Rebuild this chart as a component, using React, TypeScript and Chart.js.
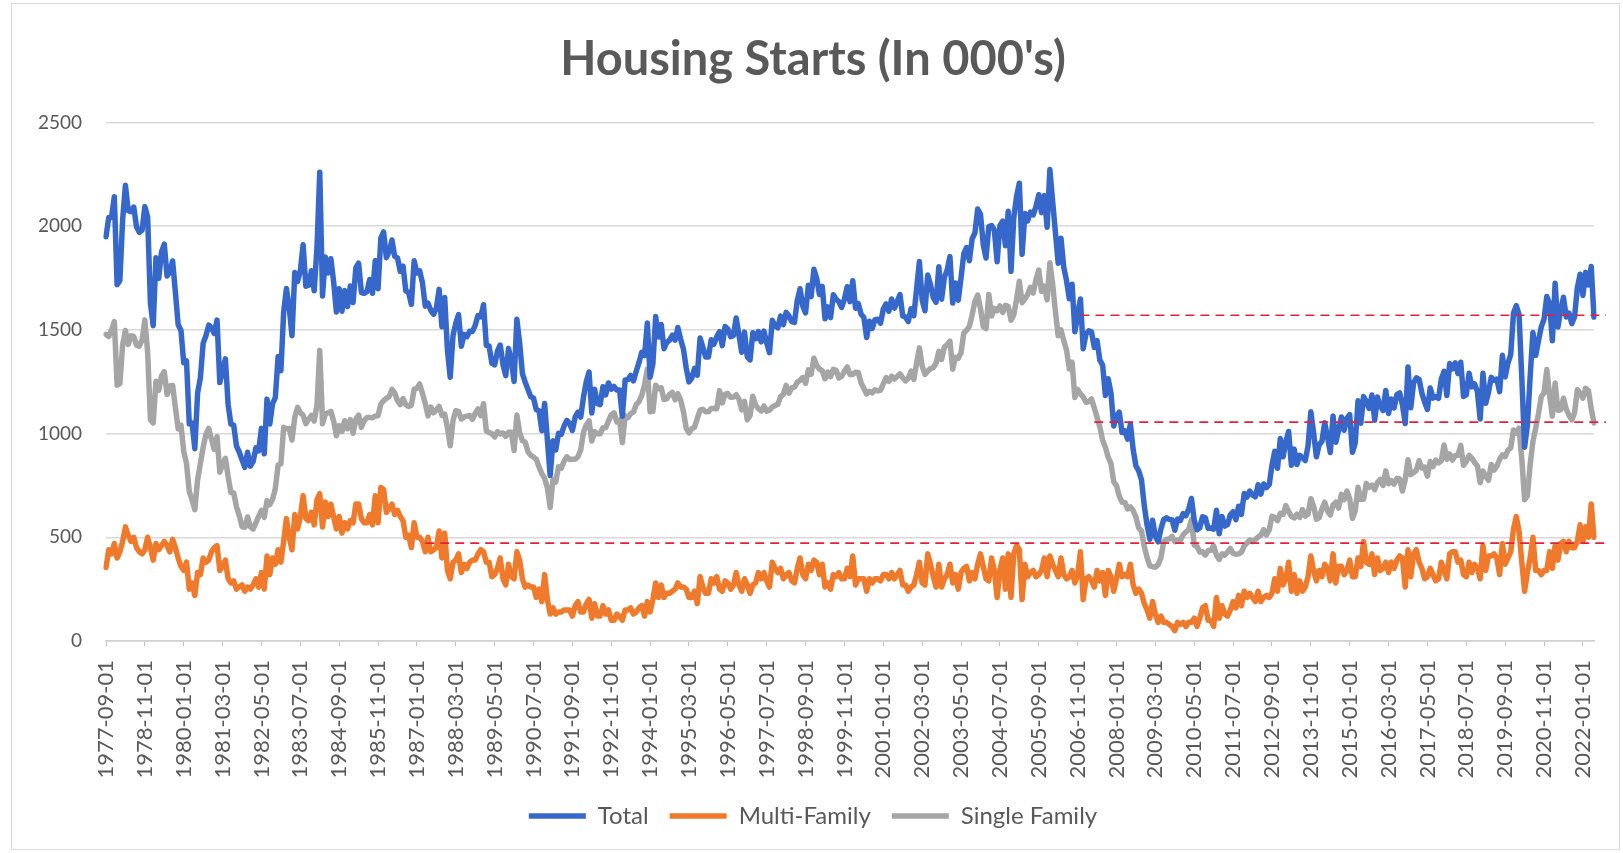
import React, { useEffect, useRef } from "react";
import { Chart, registerables } from "chart.js";

Chart.register(...registerables);

// Monthly housing starts (thousands, SAAR), 1977-09 .. 2022-05
const firstMonth = { year: 1977, month: 9 };

const total: number[] = [
  1949, 2042, 2042, 2142,
  1718, 1738, 2032, 2197, 2075, 2070, 2092, 1996, 1970, 1981, 2094, 2044,
  1630, 1520, 1847, 1748, 1876, 1913, 1760, 1778, 1832, 1681, 1524, 1498,
  1341, 1350, 1047, 1051, 927, 1196, 1269, 1436, 1471, 1523, 1510, 1482,
  1547, 1246, 1306, 1360, 1140, 1045, 1041, 940, 911, 873, 837, 910,
  843, 866, 931, 917, 1025, 902, 1166, 1046, 1144, 1173, 1372, 1303,
  1586, 1699, 1606, 1472, 1776, 1733, 1785, 1910, 1710, 1715, 1785, 1688,
  1897, 2260, 1663, 1851, 1774, 1843, 1732, 1586, 1698, 1590, 1689, 1612,
  1711, 1632, 1800, 1821, 1680, 1676, 1684, 1743, 1676, 1834, 1698, 1942,
  1972, 1848, 1876, 1933, 1854, 1847, 1782, 1807, 1687, 1681, 1623, 1833,
  1774, 1784, 1726, 1614, 1628, 1594, 1575, 1605, 1695, 1515, 1656, 1400,
  1271, 1473, 1532, 1573, 1421, 1478, 1467, 1493, 1492, 1522, 1569, 1563,
  1621, 1425, 1422, 1339, 1331, 1397, 1427, 1332, 1279, 1410, 1351, 1251,
  1551, 1437, 1289, 1248, 1212, 1177, 1171, 1115, 1110, 1014, 1145, 969,
  798, 965, 921, 1001, 996, 1036, 1063, 1049, 1015, 1079, 1103, 1079,
  1176, 1250, 1297, 1099, 1214, 1145, 1139, 1226, 1186, 1244, 1214, 1227,
  1210, 1210, 1083, 1258, 1260, 1280, 1254, 1300, 1343, 1392, 1376, 1533,
  1272, 1337, 1564, 1465, 1526, 1409, 1439, 1450, 1474, 1450, 1511, 1455,
  1407, 1316, 1249, 1267, 1314, 1281, 1461, 1416, 1369, 1369, 1452, 1431,
  1467, 1491, 1424, 1516, 1504, 1467, 1472, 1557, 1475, 1392, 1489, 1370,
  1355, 1486, 1457, 1492, 1442, 1494, 1437, 1390, 1546, 1520, 1510, 1566,
  1525, 1584, 1567, 1540, 1536, 1641, 1698, 1614, 1582, 1715, 1660, 1792,
  1748, 1670, 1710, 1553, 1611, 1559, 1669, 1648, 1635, 1608, 1648, 1708,
  1636, 1737, 1604, 1626, 1575, 1559, 1463, 1541, 1507, 1549, 1551, 1532,
  1600, 1625, 1590, 1649, 1605, 1636, 1670, 1567, 1562, 1540, 1602, 1568,
  1698, 1829, 1642, 1592, 1764, 1717, 1655, 1633, 1804, 1648, 1753, 1788,
  1853, 1629, 1726, 1643, 1751, 1867, 1897, 1833, 1939, 1967, 2083, 2057,
  1911, 1846, 1998, 2003, 1981, 1828, 2002, 2024, 1905, 2072, 1782, 2042,
  2144, 2207, 1864, 2061, 2025, 2068, 2054, 2095, 2151, 2065, 2147, 1994,
  2273, 2119, 1969, 1821, 1942, 1802, 1737, 1650, 1720, 1491, 1570, 1649,
  1409, 1480, 1495, 1490, 1415, 1448, 1354, 1330, 1183, 1264, 1197, 1037,
  1084, 1103, 1005, 1013, 973, 1046, 923, 844, 820, 777, 652, 560,
  490, 582, 505, 478, 540, 585, 594, 586, 585, 534, 588, 581,
  614, 604, 636, 687, 583, 536, 546, 599, 594, 543, 545, 539,
  630, 517, 600, 554, 561, 608, 623, 585, 650, 610, 711, 694,
  723, 704, 695, 753, 708, 757, 740, 754, 847, 915, 833, 976,
  888, 962, 1010, 847, 925, 851, 895, 883, 870, 941, 1105, 1003,
  888, 947, 962, 1052, 984, 909, 1085, 958, 1016, 1080, 1016, 1074,
  1091, 910, 955, 1158, 1050, 1178, 1154, 1121, 1186, 1064, 1176, 1135,
  1111, 1208, 1097, 1167, 1124, 1188, 1196, 1138, 1048, 1321, 1124, 1244,
  1269, 1261, 1195, 1151, 1116, 1220, 1171, 1178, 1170, 1262, 1300, 1183,
  1338, 1312, 1341, 1289, 1344, 1179, 1187, 1291, 1225, 1239, 1202, 1070,
  1291, 1146, 1199, 1271, 1257, 1263, 1202, 1377, 1273, 1340, 1380, 1580,
  1617, 1574, 1269, 934, 1038, 1273, 1487, 1376, 1448, 1514, 1551, 1661,
  1625, 1447, 1725, 1514, 1594, 1657, 1562, 1580, 1530, 1563, 1703, 1768,
  1666, 1777, 1716, 1805, 1562,
];

const multiFamily: number[] = [
  355, 440, 420, 470,
  400, 430, 480, 550, 510, 480, 500, 450, 430, 420, 440, 500,
  450, 390, 470, 440, 460, 480, 460, 430, 490, 450, 400, 360,
  340, 380, 250, 280, 220, 330, 320, 400, 380, 390, 430, 450,
  460, 340, 360, 390, 300, 280, 290, 250, 260, 270, 240, 260,
  250, 270, 300, 260, 330, 250, 410, 320, 400, 370, 440, 380,
  480, 590, 500, 440, 610, 540, 600, 700, 590, 580, 620, 560,
  680, 710, 550, 670, 600, 660, 600, 540, 600, 520, 570, 540,
  580, 570, 660, 660, 590, 570, 570, 610, 560, 700, 570, 740,
  730, 620, 640, 660, 610, 630, 600, 580, 500, 510, 450, 570,
  500, 500, 480, 430, 500, 430, 440, 450, 530, 400, 520, 340,
  300, 380, 390, 420, 330, 370, 350, 380, 390, 390, 420, 440,
  430, 380, 380, 310, 320, 350, 400, 300, 270, 370, 310, 300,
  430, 390, 300, 260, 270, 260, 260, 210, 250, 190, 320, 200,
  130, 160, 130, 140, 140, 150, 150, 150, 120, 170, 190, 140,
  140, 180, 200, 110, 180, 120, 120, 170, 130, 150, 100, 100,
  130, 120, 100, 150, 150, 160, 130, 140, 160, 170, 120, 190,
  140, 200, 280, 210, 270, 210, 230, 230, 240, 250, 280, 260,
  260, 250, 210, 210, 240, 180, 310, 260, 230, 230, 300, 280,
  310, 250, 240, 290, 280, 250, 270, 330, 270, 240, 300, 270,
  230, 270, 280, 330, 300, 330, 290, 260, 380, 350, 330, 350,
  300, 320, 330, 290, 280, 350, 400, 320, 300, 370, 340, 390,
  380, 320, 370, 260, 280, 250, 320, 310, 330, 300, 300, 350,
  310, 410, 270, 300, 300, 300, 240, 300, 280, 300, 300, 290,
  320, 320, 300, 330, 300, 320, 340, 270, 270, 240, 260, 270,
  320, 380, 280, 270, 420, 370, 310, 260, 370, 260, 300, 320,
  370, 280, 320, 250, 330, 350, 360, 290, 330, 300, 370, 420,
  360, 300, 290, 400, 340, 210, 340, 400, 250, 420, 210, 420,
  460, 440, 200, 370, 310, 330, 340, 310, 320, 340, 400, 310,
  410, 370, 340, 310, 400, 320, 300, 310, 340, 280, 320, 430,
  200, 300, 310, 290, 260, 340, 290, 330, 220, 340, 310, 240,
  300, 370, 310, 320, 310, 370, 270, 230, 250, 230, 180, 150,
  110, 190, 130, 90, 120, 90, 90, 80, 70, 50, 90, 80,
  90, 70, 90, 90, 110, 70, 110, 160, 170, 100, 100, 70,
  210, 110, 170, 130, 120, 150, 190, 160, 220, 170, 240, 210,
  230, 210, 190, 240, 190, 210, 220, 210, 230, 300, 240, 350,
  270, 300, 380, 240, 320, 230, 290, 240, 260, 310, 410, 340,
  290, 340, 310, 370, 350, 290, 420, 280, 360, 360, 320, 340,
  390, 310, 310, 400, 360, 480, 380, 370, 420, 320, 400, 340,
  350, 380, 330, 380, 350, 390, 410, 400, 260, 440, 310, 420,
  440, 380, 350, 300, 310, 350, 320, 290, 300, 380, 340, 300,
  420, 430, 430, 380, 390, 320, 310, 380, 330, 370, 350, 300,
  460, 340, 410, 410, 420, 400, 320, 470, 370, 400, 430, 540,
  600, 530, 380, 240, 330, 400, 500, 340, 340, 320, 340, 340,
  430, 350, 460, 390, 470, 480, 430, 480, 450, 450, 480, 560,
  480, 550, 500, 660, 500,
];

const singleFamily: number[] = [
  1478, 1468, 1498, 1540,
  1234, 1241, 1429, 1497, 1430, 1471, 1468, 1426, 1421, 1451, 1548, 1393,
  1067, 1051, 1252, 1208, 1277, 1298, 1188, 1229, 1232, 1126, 1022, 1041,
  914, 856, 720, 681, 633, 779, 855, 934, 996, 1025, 972, 923,
  985, 814, 854, 881, 792, 716, 714, 647, 606, 551, 548, 598,
  550, 540, 570, 601, 630, 596, 676, 658, 683, 735, 848, 854,
  1030, 1023, 1025, 969, 1078, 1126, 1101, 1088, 1048, 1069, 1088, 1060,
  1138, 1401, 1047, 1094, 1100, 1107, 1061, 989, 1038, 1010, 1062, 1023,
  1067, 1002, 1069, 1089, 1030, 1063, 1077, 1078, 1076, 1085, 1086, 1142,
  1159, 1170, 1178, 1213, 1196, 1158, 1140, 1169, 1139, 1131, 1137, 1214,
  1218, 1239, 1194, 1145, 1085, 1128, 1100, 1113, 1131, 1088, 1094, 1028,
  941, 1063, 1110, 1107, 1070, 1080, 1084, 1087, 1069, 1098, 1119, 1086,
  1144, 1013, 1005, 999, 983, 1009, 998, 1003, 986, 1006, 1006, 918,
  1089, 1006, 966, 959, 912, 895, 887, 876, 838, 806, 785, 738,
  644, 779, 766, 840, 833, 867, 888, 875, 876, 876, 888, 921,
  1007, 1041, 1061, 964, 1009, 999, 999, 1028, 1028, 1060, 1091, 1100,
  1056, 1066, 956, 1086, 1077, 1096, 1104, 1140, 1154, 1184, 1236, 1310,
  1105, 1107, 1233, 1216, 1220, 1164, 1168, 1188, 1198, 1163, 1192, 1161,
  1106, 1025, 1003, 1023, 1031, 1073, 1113, 1117, 1105, 1106, 1121, 1121,
  1120, 1207, 1148, 1190, 1193, 1175, 1176, 1187, 1166, 1114, 1155, 1066,
  1087, 1180, 1137, 1120, 1109, 1133, 1108, 1113, 1128, 1135, 1141, 1178,
  1189, 1232, 1195, 1220, 1224, 1247, 1257, 1270, 1242, 1307, 1286, 1363,
  1329, 1311, 1303, 1264, 1296, 1274, 1310, 1305, 1268, 1276, 1301, 1321,
  1285, 1285, 1296, 1294, 1244, 1217, 1191, 1204, 1196, 1211, 1206, 1209,
  1240, 1270, 1252, 1277, 1263, 1275, 1288, 1269, 1254, 1267, 1301, 1261,
  1340, 1413, 1325, 1285, 1301, 1313, 1318, 1340, 1396, 1357, 1418, 1428,
  1445, 1310, 1368, 1363, 1389, 1485, 1498, 1517, 1572, 1637, 1668, 1603,
  1516, 1506, 1671, 1567, 1604, 1592, 1616, 1584, 1618, 1612, 1546, 1572,
  1647, 1734, 1631, 1649, 1670, 1705, 1678, 1743, 1788, 1685, 1711, 1645,
  1823, 1720, 1588, 1471, 1500, 1448, 1402, 1311, 1344, 1174, 1213, 1192,
  1176, 1151, 1154, 1167, 1123, 1078, 1032, 968, 934, 886, 855, 767,
  749, 698, 669, 668, 637, 646, 629, 597, 545, 530, 456, 403,
  362, 358, 356, 368, 401, 478, 491, 492, 504, 479, 487, 486,
  512, 526, 536, 586, 463, 456, 429, 430, 414, 436, 437, 459,
  413, 393, 420, 414, 428, 446, 423, 418, 420, 428, 459, 472,
  487, 479, 490, 501, 510, 537, 511, 535, 601, 595, 580, 615,
  610, 653, 624, 601, 593, 611, 596, 634, 602, 612, 686, 650,
  587, 595, 637, 669, 627, 607, 656, 669, 641, 707, 681, 723,
  686, 591, 629, 741, 682, 683, 760, 741, 751, 730, 764, 779,
  750, 820, 758, 773, 756, 784, 781, 723, 778, 874, 802, 812,
  823, 869, 834, 838, 795, 865, 841, 872, 859, 870, 945, 876,
  902, 872, 894, 895, 943, 847, 866, 895, 881, 860, 844, 764,
  819, 794, 775, 851, 824, 843, 875, 897, 889, 920, 931, 1017,
  1002, 1026, 876, 681, 700, 850, 963, 1026, 1096, 1178, 1196, 1309,
  1185, 1084, 1244, 1112, 1115, 1170, 1118, 1088, 1066, 1100, 1211, 1194,
  1171, 1218, 1207, 1120, 1051,
];

// Dashed red reference levels (value) and the month each one starts at
const refLevels: number[] = [1570, 1055, 472];
const refStarts: string[] = ["2006-12-01", "2007-05-01", "1987-04-01"];

const yTicks: number[] = [0, 500, 1000, 1500, 2000, 2500];
const labelEvery = 14;

const months: string[] = total.map((_, i) => {
  const m0 = firstMonth.month - 1 + i;
  const y = firstMonth.year + Math.floor(m0 / 12);
  const m = (m0 % 12) + 1;
  return `${y}-${String(m).padStart(2, "0")}-01`;
});

const FONT = "Lato, 'Open Sans', sans-serif";
const TEXT = "#595959";

const refLinePlugin = {
  id: "refLines",
  afterDatasetsDraw(chart: any) {
    const { ctx, chartArea, scales } = chart;
    const xs = scales.x;
    const ys = scales.y;
    ctx.save();
    ctx.strokeStyle = "#e4203c";
    ctx.lineWidth = 1.6;
    ctx.setLineDash([9, 6]);
    refLevels.forEach((v, i) => {
      const idx = months.indexOf(refStarts[i]);
      const x0 = xs.getPixelForValue(idx);
      const yy = ys.getPixelForValue(v);
      ctx.beginPath();
      ctx.moveTo(x0, yy);
      ctx.lineTo(chartArea.right + 12, yy);
      ctx.stroke();
    });
    ctx.restore();
  },
};

export default function App() {
  const ref = useRef<HTMLCanvasElement | null>(null);

  useEffect(() => {
    if (!ref.current) return;
    const line = (label: string, data: number[], color: string) => ({
      label,
      data,
      borderColor: color,
      backgroundColor: color,
      borderWidth: 5.5,
      pointRadius: 0,
      tension: 0,
      borderJoinStyle: "round" as const,
      borderCapStyle: "round" as const,
    });
    const chart = new Chart(ref.current, {
      type: "line",
      data: {
        labels: months,
        datasets: [
          line("Total", total, "#3668cc"),
          line("Multi-Family", multiFamily, "#ef7a2c"),
          line("Single Family", singleFamily, "#a5a5a5"),
        ],
      },
      options: {
        animation: false,
        responsive: false,
        events: [],
        layout: { padding: { left: 20, right: 25, top: 0, bottom: 11 } },
        plugins: {
          title: {
            display: true,
            text: "Housing Starts (In 000's)",
            color: TEXT,
            font: { family: FONT, size: 47, weight: "bold" },
            padding: { top: 28, bottom: 34 },
          },
          legend: {
            position: "bottom",
            labels: {
              usePointStyle: true,
              pointStyle: "line",
              pointStyleWidth: 57,
              color: TEXT,
              font: { family: FONT, size: 24 },
              padding: 21,
            },
          },
          tooltip: { enabled: false },
        },
        scales: {
          x: {
            type: "category",
            offset: false,
            afterFit: (s: any) => {
              s.height = 142;
              s.paddingLeft = 0;
              s.paddingRight = 0;
            },
            grid: {
              drawOnChartArea: false,
              drawTicks: true,
              tickLength: 5,
              color: (c: any) => (c.index % labelEvery === 0 ? "#bfbfbf" : "rgba(0,0,0,0)"),
            },
            border: { color: "#d0d0d0", width: 1.5 },
            ticks: {
              autoSkip: false,
              maxRotation: 90,
              minRotation: 90,
              padding: 14,
              color: TEXT,
              font: { family: FONT, size: 22 },
              callback: (_v: any, i: number) => (i % labelEvery === 0 ? months[i] : ""),
            },
          },
          y: {
            min: 0,
            max: 2500,
            afterFit: (s: any) => {
              s.width = 74;
            },
            afterBuildTicks: (s: any) => {
              s.ticks = yTicks.map((v) => ({ value: v }));
            },
            grid: { color: "#d9d9d9", lineWidth: 1.5, drawTicks: false },
            border: { display: false },
            ticks: {
              padding: 24,
              color: TEXT,
              font: { family: FONT, size: 19 },
              callback: (v: any) => String(v),
            },
          },
        },
      },
      plugins: [refLinePlugin],
    });
    return () => chart.destroy();
  }, []);

  return (
    <div
      style={{
        position: "absolute",
        left: 11,
        top: 3,
        width: 1609,
        height: 847,
        border: "1px solid #d9d9d9",
        boxSizing: "border-box",
        background: "#fff",
      }}
    >
      <canvas ref={ref} width={1607} height={845} style={{ display: "block" }} />
    </div>
  );
}
